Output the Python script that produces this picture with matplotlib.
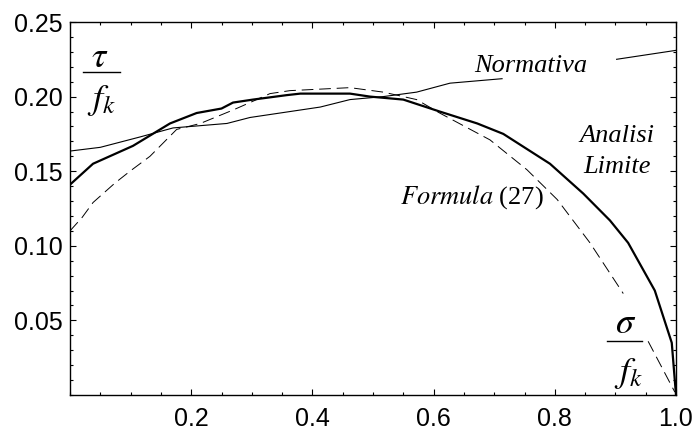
import numpy as np
import matplotlib
matplotlib.use("Agg")
import matplotlib.pyplot as plt
from matplotlib.ticker import MultipleLocator, FixedLocator

nan = np.nan
# Normativa (thin solid)
norm_x = [0, 0.05, 0.116, 0.17, 0.259, 0.297, 0.413, 0.462, 0.517, 0.572, 0.627, 0.713, nan, 0.902, 1.0]
norm_y = [0.1635, 0.166, 0.173, 0.179, 0.182, 0.186, 0.193, 0.198, 0.200, 0.203, 0.209, 0.212, nan, 0.225, 0.231]
# Analisi Limite (thick solid)
lim_x = [0, 0.038, 0.104, 0.165, 0.209, 0.25, 0.269, 0.302, 0.358, 0.38, 0.462, 0.495, 0.55, 0.61,
         0.672, 0.715, 0.792, 0.847, 0.891, 0.921, 0.965, 0.993, 1.0]
lim_y = [0.141, 0.155, 0.167, 0.182, 0.189, 0.192, 0.196, 0.198, 0.201, 0.202, 0.202, 0.200, 0.198, 0.190,
         0.182, 0.175, 0.155, 0.135, 0.117, 0.102, 0.070, 0.035, 0.0]
# Formula (27) (dashed)
form_x = [0, 0.02, 0.038, 0.074, 0.099, 0.132, 0.176, 0.215, 0.269, 0.297, 0.33, 0.363, 0.462, 0.517,
          0.572, 0.61, 0.693, 0.754, 0.804, 0.858, 0.913, nan, 0.954, 0.998]
form_y = [0.110, 0.119, 0.129, 0.142, 0.150, 0.160, 0.178, 0.182, 0.191, 0.196, 0.202, 0.204, 0.206, 0.203,
          0.198, 0.189, 0.171, 0.151, 0.131, 0.102, 0.068, nan, 0.036, 0.002]

x_major = [0.2, 0.4, 0.6, 0.8, 1.0]
x_labels = ["0.2", "0.4", "0.6", "0.8", "1.0"]
y_major = [0.05, 0.10, 0.15, 0.20, 0.25]
y_labels = ["0.05", "0.10", "0.15", "0.20", "0.25"]

fig = plt.figure(figsize=(6.97, 4.33), dpi=100)
ax = fig.add_axes([70/697, 38/433, 606/697, 373/433])

ax.plot(norm_x, norm_y, color="black", lw=0.8)
ax.plot(lim_x, lim_y, color="black", lw=1.6)
ax.plot(form_x, form_y, color="black", lw=0.7, dashes=(12, 6))

ax.set_xlim(0, 1)
ax.set_ylim(0, 0.25)
ax.xaxis.set_major_locator(FixedLocator(x_major))
ax.set_xticklabels(x_labels)
ax.yaxis.set_major_locator(FixedLocator(y_major))
ax.set_yticklabels(y_labels)
ax.xaxis.set_minor_locator(MultipleLocator(0.05))
ax.yaxis.set_minor_locator(MultipleLocator(0.01))
ax.tick_params(which="both", direction="in", top=True, right=True, width=0.8, color="black")
ax.tick_params(which="major", length=4)
ax.tick_params(which="minor", length=2.5)
ax.tick_params(axis="x", which="major", pad=9, labelsize=18)
ax.tick_params(axis="y", which="major", pad=5, labelsize=18)
for lab in ax.get_xticklabels() + ax.get_yticklabels():
    lab.set_fontfamily("Liberation Sans")
for sp in ax.spines.values():
    sp.set_linewidth(1.0)

serif = "Liberation Serif"
ax.text(0.761, 0.2165, "Normativa", fontfamily=serif, fontstyle="italic", fontsize=19,
        ha="center", va="baseline")
ax.text(0.903, 0.1696, "Analisi", fontfamily=serif, fontstyle="italic", fontsize=19,
        ha="center", va="baseline")
ax.text(0.903, 0.1488, "Limite", fontfamily=serif, fontstyle="italic", fontsize=19,
        ha="center", va="baseline")
ax.text(0.545, 0.128, r"$\mathit{Formula}$ (27)", fontfamily=serif, fontsize=19,
        math_fontfamily="stix", ha="left", va="baseline")


def fraction(num, xc, y_base, x0, x1, y_bar, xd, y_top):
    ax.text(xc, y_base, num, fontsize=26, math_fontfamily="stix", ha="center", va="baseline")
    ax.plot([x0, x1], [y_bar, y_bar], color="black", lw=1.0)
    ax.text(xd, y_top, r"$f_k$", fontsize=26, math_fontfamily="stix", ha="center", va="top")


fraction(r"$\tau$", 0.0495, 0.2198, 0.0215, 0.0825, 0.2165, 0.052, 0.2090)
fraction(r"$\sigma$", 0.916, 0.0416, 0.886, 0.944, 0.0362, 0.922, 0.0262)

fig.savefig("out.png", dpi=100)
